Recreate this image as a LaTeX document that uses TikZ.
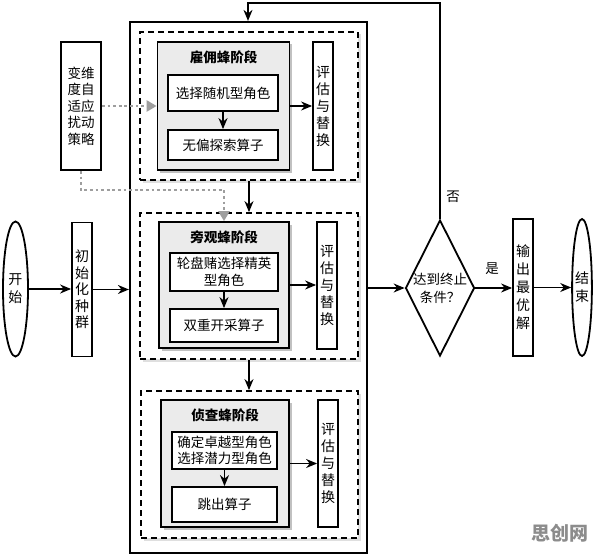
\documentclass[tikz,border=0pt]{standalone}
\usepackage{fontspec}
\setmainfont{Noto Sans CJK SC}
\usetikzlibrary{arrows.meta,shapes.geometric,shadows,calc}
\begin{document}
\begin{tikzpicture}[x=1pt,y=-1pt,
 txt/.style={font=\fontsize{13.5pt}{16.5pt}\selectfont, align=center, inner sep=0pt},
 box/.style={draw, line width=1.8pt, fill=white, txt},
 vbox/.style={box, font=\fontsize{14pt}{17pt}\selectfont},
 phase/.style={draw, line width=1.8pt, fill=black!8, inner sep=0pt, drop shadow={shadow xshift=2.5pt, shadow yshift=-2.5pt, fill=black!40, opacity=0.6}},
 dbox/.style={draw, line width=1.8pt, dash pattern=on 6pt off 4pt, fill=white, inner sep=0pt, drop shadow={shadow xshift=2.5pt, shadow yshift=-2.5pt, fill=black!25, opacity=0.5}},
 ttl/.style={font=\fontsize{13.5pt}{16pt}\selectfont\bfseries, inner sep=0pt},
 arr/.style={-{Stealth[length=11pt,width=9pt]}, line width=1.5pt},
 garr/.style={draw=black!38, line width=2.8pt, dash pattern=on 2.8pt off 2.8pt, -{Triangle[length=10pt,width=11pt,fill=black!38]}},
 ell/.style={draw, ellipse, line width=1.8pt, inner sep=0pt, align=center, font=\fontsize{14pt}{18pt}\selectfont}
]
\useasboundingbox (0,0) rectangle (596,556);

% outer frame
\node[draw, line width=2.2pt, minimum width=237pt, minimum height=531pt, inner sep=0pt] (outer) at (248.5,287.5) {};

% dashed stage frames
\node[dbox, minimum width=218pt, minimum height=148pt] (d1) at (249,106) {};
\node[dbox, minimum width=218pt, minimum height=146pt] (d2) at (249,286) {};
\node[dbox, minimum width=217pt, minimum height=147pt] (d3) at (249.5,464.5) {};

% grey phase boxes
\node[phase, minimum width=132pt, minimum height=128pt] (p1) at (223.5,106) {};
\node[phase, minimum width=130pt, minimum height=126pt] (p2) at (224,285) {};
\node[phase, minimum width=128pt, minimum height=127pt] (p3) at (225,463.5) {};

\node[ttl] (t1) at (223.5,57) {雇佣蜂阶段};
\node[ttl] (t2) at (224,237) {旁观蜂阶段};
\node[ttl] (t3) at (225,415) {侦查蜂阶段};

% inner boxes
\node[box, minimum width=110pt, minimum height=36pt] (a1) at (223,93) {选择随机型角色};
\node[box, minimum width=110pt, minimum height=30pt] (b1) at (223,145) {无偏探索算子};
\node[box, minimum width=108pt, minimum height=38pt] (a2) at (224,272) {轮盘赌选择精英\\型角色};
\node[box, minimum width=108pt, minimum height=33pt] (b2) at (224,325.5) {双重开采算子};
\node[box, minimum width=105pt, minimum height=37pt] (a3) at (224.5,450.5) {确定卓越型角色\\选择潜力型角色};
\node[box, minimum width=105pt, minimum height=35pt] (b3) at (224.5,504.5) {跳出算子};

% evaluation boxes
\node[vbox, minimum width=20pt, minimum height=128pt] (e1) at (323,106) {评\\估\\与\\替\\换};
\node[vbox, minimum width=20pt, minimum height=127pt] (e2) at (327,285.5) {评\\估\\与\\替\\换};
\node[vbox, minimum width=20pt, minimum height=127pt] (e3) at (328,463.5) {评\\估\\与\\替\\换};

% perturbation strategy
\node[box, minimum width=40pt, minimum height=128pt, font=\fontsize{13.5pt}{16.5pt}\selectfont] (pert) at (81,106) {变维\\度自\\适应\\扰动\\策略};

% left side
\node[ell, minimum width=25pt, minimum height=135pt] (start) at (15.5,289) {开\\始};
\node[vbox, minimum width=20pt, minimum height=134pt, font=\fontsize{14pt}{16.5pt}\selectfont] (init) at (82,289.5) {初\\始\\化\\种\\群};

% right side
\node[draw, diamond, line width=1.8pt, minimum width=69pt, minimum height=136pt, inner sep=0pt] (dia) at (440,288) {};
\node[txt, font=\fontsize{13.5pt}{18pt}\selectfont] (dt) at (440,288) {达到终止\\条件？};
\node[vbox, minimum width=20pt, minimum height=137pt, font=\fontsize{14pt}{18pt}\selectfont] (out) at (523,287.5) {输\\出\\最\\优\\解};
\node[ell, minimum width=18pt, minimum height=137pt] (end) at (582,287.5) {结\\束};

\node[txt] (no) at (453,197) {否};
\node[txt] (yes) at (492,269) {是};

% connectors
\draw[arr] (start.east) -- (init.west |- start.east);
\draw[arr] (init.east) -- (outer.west |- init.east);
\draw[arr] (outer.east |- dia.west) -- (dia.west);
\draw[arr] (dia.east) -- (out.west |- dia.east);
\draw[arr] (out.east) -- (end.west |- out.east);
\coordinate (top) at (248,3);
\draw[arr] (dia.north) |- (top) -- (top |- outer.north);
\draw[arr] (d1.south) -- (d1.south |- d2.north);
\draw[arr] (d2.south) -- (d2.south |- d3.north);

\draw[arr] (a1) -- (b1);
\draw[arr] (a2) -- (b2);
\draw[arr] (a3) -- (b3);
\draw[arr] (p1.east) -- (e1.west |- p1.east);
\draw[arr] (p2.east) -- (e2.west |- p2.east);
\draw[arr] (p3.east) -- (e3.west |- p3.east);

\coordinate (gy) at (0,190);
\draw[garr] (pert.east) -- (p1.west);
\draw[garr] (pert.south) |- (p2.north |- gy) -- (p2.north);

% watermark
\node[font=\fontsize{19pt}{20pt}\selectfont\bfseries, text=black!45, inner sep=0pt] (wm) at (560,533) {思创网};
\end{tikzpicture}
\end{document}
